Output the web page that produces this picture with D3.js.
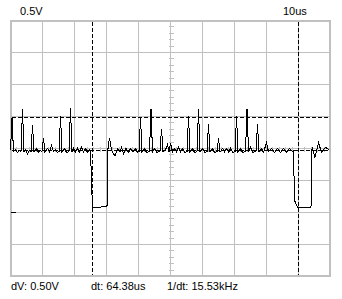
<!DOCTYPE html>
<html lang="en">
<head>
  <meta charset="UTF-8">
  <title>Scope trace</title>
  <script src="https://d3js.org/d3.v7.min.js"></script>
  <style>
    body { margin: 0; background: #fff; }
    svg { display: block; font-family: "Liberation Sans", Arial, sans-serif; font-size: 11px; }
  </style>
</head>
<body>
  <svg width="342" height="299"></svg>

  <script>
    // trace samples: time in us, level in V
    const timeUs = [
      0, 0.47, 0.94, 1.56, 2.19, 2.81, 3.28, 3.75, 4.22, 4.69, 5.31, 5.94, 6.41, 6.88, 7.34,
      8.13, 8.75, 9.38, 9.84, 10.31, 10.78, 11.56, 12.19, 12.81, 13.44, 14.06, 14.69, 15.16,
      15.63, 16.09, 16.88, 17.5, 18.28, 18.75, 19.22, 19.69, 20.31, 20.94, 21.56, 22.19,
      22.81, 23.44, 24.06, 24.69, 25.0, 25.16, 25.47, 25.78, 30.16, 30.31, 30.94, 31.56,
      32.66, 33.44, 34.22, 34.69, 35.31, 36.09, 36.88, 37.5, 38.28, 39.06, 39.69, 40.16,
      40.63, 41.09, 41.88, 42.5, 43.44, 43.91, 44.38, 45.0, 45.63, 46.72, 47.19, 47.66,
      48.44, 49.06, 49.53, 50.0, 50.63, 51.25, 51.88, 52.5, 53.13, 53.75, 54.38, 55.16,
      55.63, 56.09, 56.88, 57.5, 58.28, 58.75, 59.22, 60.0, 60.63, 61.41, 61.88, 62.34,
      63.13, 63.75, 64.53, 65.0, 65.47, 66.25, 66.88, 67.5, 68.13, 68.75, 69.38, 70.16,
      70.63, 71.09, 71.88, 72.5, 73.44, 73.91, 74.38, 75.0, 75.63, 76.72, 77.19, 77.66,
      78.44, 79.06, 80.0, 80.63, 81.56, 82.5, 83.44, 84.38, 85.31, 86.25, 87.19, 88.13,
      88.44, 88.75, 89.69, 93.91, 94.06, 94.38, 95.16, 96.25, 97.19, 98.44, 99.69
    ];
    const volts = [
      0.98, 1.48, 0.95, 0.98, 0.94, 0.97, 0.95, 1.61, 0.95, 0.98, 0.92, 0.97, 0.95, 1.36, 0.95,
      1.0, 0.94, 0.97, 0.95, 1.17, 0.94, 1.0, 0.95, 1.05, 0.95, 0.98, 0.94, 0.95,
      1.5, 0.95, 1.0, 0.94, 0.95, 1.63, 0.95, 1.0, 0.94, 1.0, 0.94, 1.02,
      0.95, 1.0, 0.94, 0.98, 0.97, 0.73, 0.27, 0.08, 0.09, 0.94, 1.17, 0.97,
      0.88, 1.0, 0.95, 1.02, 0.92, 1.0, 0.94, 1.0, 0.95, 1.0, 0.94, 0.95,
      1.48, 0.95, 1.0, 0.94, 0.95, 1.61, 0.95, 1.0, 0.94, 0.95, 1.31, 0.95,
      0.98, 1.06, 0.95, 1.09, 0.95, 1.0, 0.94, 1.02, 0.95, 1.0, 0.94, 0.95,
      1.5, 0.95, 1.0, 0.94, 0.95, 1.61, 0.95, 1.0, 0.94, 0.95, 1.375, 0.95,
      1.0, 0.94, 0.95, 1.16, 0.94, 1.0, 0.95, 1.0, 0.94, 1.0, 0.94, 0.95,
      1.5, 0.95, 1.0, 0.94, 0.95, 1.61, 0.95, 1.02, 0.94, 0.95, 1.375, 0.95,
      1.0, 0.94, 1.09, 0.95, 1.0, 0.94, 1.0, 0.94, 1.0, 0.94, 1.0, 0.95,
      0.97, 0.19, 0.08, 0.08, 0.97, 1.0, 0.86, 1.09, 0.94, 1.02, 0.97
    ];

    const timeCursors = [25.62, 90.0];   // dashed vertical cursors
    const voltCursors = [1.48, 0.97];    // dashed horizontal cursors
    const groundLevel = 0;
    const voltLabel = "0.5V";
    const timeLabel = "10us";
    const readouts = ["dV: 0.50V", "dt: 64.38us", "1/dt: 15.53kHz"];

    const svg = d3.select("svg");

    // 10 divisions of 10us, 8 divisions of 0.5V, 32px each
    const x = d3.scaleLinear().domain([0, 100]).range([10.5, 330.5]);
    const y = d3.scaleLinear().domain([-1, 3]).range([276.5, 20.5]);

    const grid = svg.append("g")
      .attr("stroke", "#c0c0c0")
      .attr("shape-rendering", "crispEdges");

    grid.selectAll(".vgrid")
      .data(d3.range(10, 100, 10))
      .enter().append("line")
      .attr("x1", d => x(d)).attr("x2", d => x(d))
      .attr("y1", y(3)).attr("y2", y(-1));

    grid.selectAll(".hgrid")
      .data(d3.range(-0.5, 3, 0.5))
      .enter().append("line")
      .attr("x1", x(0)).attr("x2", x(100))
      .attr("y1", d => y(d)).attr("y2", d => y(d));

    // small ticks on the centre cross
    grid.selectAll(".vtick")
      .data(d3.range(-1, 3.001, 0.1))
      .enter().append("line")
      .attr("x1", x(50) - 2).attr("x2", x(50) + 3)
      .attr("y1", d => y(d)).attr("y2", d => y(d));

    grid.selectAll(".htick")
      .data(d3.range(0, 100.01, 2))
      .enter().append("line")
      .attr("x1", d => x(d)).attr("x2", d => x(d))
      .attr("y1", y(1) - 2).attr("y2", y(1) + 3);

    // frame
    svg.append("rect")
      .attr("x", 11).attr("y", 21)
      .attr("width", 319).attr("height", 255)
      .attr("fill", "none")
      .attr("stroke", "#c0c0c0")
      .attr("stroke-width", 2)
      .attr("shape-rendering", "crispEdges");

    // cursors
    const cur = svg.append("g")
      .attr("stroke", "#000")
      .attr("stroke-dasharray", "4,2")
      .attr("shape-rendering", "crispEdges");

    cur.selectAll(".tc")
      .data(timeCursors)
      .enter().append("line")
      .attr("x1", d => x(d)).attr("x2", d => x(d))
      .attr("y1", 22).attr("y2", 275);

    cur.selectAll(".vc")
      .data(voltCursors)
      .enter().append("line")
      .attr("x1", 12).attr("x2", 329)
      .attr("y1", d => y(d)).attr("y2", d => y(d));

    // trace
    const line = d3.line()
      .x((d, i) => x(timeUs[i]))
      .y(d => y(d));

    svg.append("path")
      .datum(volts)
      .attr("d", line)
      .attr("fill", "none")
      .attr("stroke", "#000")
      .attr("stroke-width", 1)
      .attr("shape-rendering", "crispEdges");

    // ground marker
    svg.append("line")
      .attr("x1", 11).attr("x2", 16)
      .attr("y1", y(groundLevel)).attr("y2", y(groundLevel))
      .attr("stroke", "#000")
      .attr("shape-rendering", "crispEdges");

    // labels
    svg.append("text").attr("x", 20).attr("y", 15).text(voltLabel);
    svg.append("text").attr("x", 283).attr("y", 15).text(timeLabel);

    svg.selectAll(".readout")
      .data(readouts)
      .enter().append("text")
      .attr("x", (d, i) => [11, 91, 167][i])
      .attr("y", 290)
      .text(d => d);
  </script>
</body>
</html>
